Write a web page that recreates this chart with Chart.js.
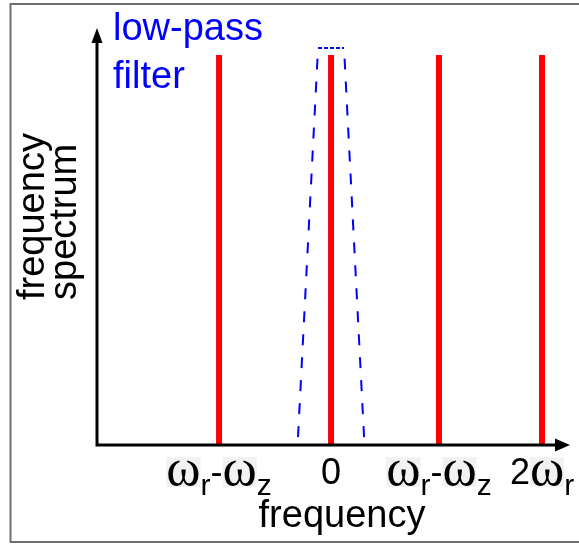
<!DOCTYPE html>
<html>
<head>
<meta charset="utf-8">
<script src="https://cdn.jsdelivr.net/npm/chart.js@4/dist/chart.umd.min.js"></script>
<style>
  html, body { margin: 0; padding: 0; background: #fff; }
  canvas { display: block; }
</style>
</head>
<body>
<canvas id="spectrumChart" width="579" height="546"></canvas>
<script>
// x in units of the line spacing, 0 = DC
const xMin = -2.09;
const xMax = 2.134;

// spectral lines (red)
const lineFreqs = [-1, 0, 0.964, 1.884];
const lineHeights = [0.935, 0.935, 0.935, 0.935];

// low-pass filter outline (blue dashed trapezoid)
const filterX = [-0.295, -0.116, 0.116, 0.295];
const filterY = [0.019, 0.952, 0.952, 0.019];

// tick labels, "_" marks a subscript character
const tickValues = [-1, 0, 0.964, 1.884];
const tickLabels = ['ω_r-ω_z', '0', 'ω_r-ω_z', '2ω_r'];

const RED = '#ff0000';
const BLUE = '#0000ff';
const SANS = '"Liberation Sans", Arial, sans-serif';
const SERIF = '"Liberation Serif", "Times New Roman", serif';

// one dataset per spectral line, from axis to top
const lineSets = lineFreqs.map((f, i) => ({
    data: [{ x: f, y: 0 }, { x: f, y: lineHeights[i] }],
    borderColor: RED,
    borderWidth: 6,
    borderCapStyle: 'butt',
    pointRadius: 0,
    fill: false
}));

const filterSets = [
    // left side (bottom -> top)
    { data: [{ x: filterX[0], y: filterY[0] }, { x: filterX[1], y: filterY[1] }], dash: [11, 12] },
    // top (dotted)
    { data: [{ x: filterX[1], y: filterY[1] }, { x: filterX[2], y: filterY[2] }], dash: [4, 2] },
    // right side (bottom -> top)
    { data: [{ x: filterX[3], y: filterY[3] }, { x: filterX[2], y: filterY[2] }], dash: [11, 12] }
].map(s => ({
    data: s.data,
    borderColor: BLUE,
    borderWidth: 2,
    borderDash: s.dash,
    pointRadius: 0,
    fill: false
}));

function arrowHead(ctx, x, y, dx, dy, len, half) {
    // tip at (x,y), pointing along (dx,dy)
    const bx = x - dx * len, by = y - dy * len;
    ctx.beginPath();
    ctx.moveTo(x, y);
    ctx.lineTo(bx - dy * half, by + dx * half);
    ctx.lineTo(bx + dy * half, by - dx * half);
    ctx.closePath();
    ctx.fill();
}

// split 'ω_r-ω_z' into drawable pieces
function parseLabel(str) {
    const parts = [];
    for (let i = 0; i < str.length; i++) {
        const ch = str[i];
        if (ch === '_') {
            parts.push({ t: str[i + 1], kind: 'sub' });
            i++;
        } else if (ch === 'ω') {
            parts.push({ t: ch, kind: 'greek' });
        } else {
            parts.push({ t: ch, kind: 'plain' });
        }
    }
    return parts;
}

const fonts = {
    greek: '52px ' + SERIF,
    plain: '36px ' + SANS,
    sub: '30px ' + SANS
};

const decorPlugin = {
    id: 'decor',
    beforeDraw(chart) {
        const ctx = chart.ctx;
        ctx.save();
        ctx.fillStyle = '#ffffff';
        ctx.fillRect(0, 0, chart.width, chart.height);
        // outer frame (right edge is off the picture)
        ctx.strokeStyle = '#6e6e6e';
        ctx.lineWidth = 2;
        ctx.strokeRect(10.5, 4, 600, 538);
        ctx.restore();
    },
    afterDatasetsDraw(chart) {
        const ctx = chart.ctx;
        const xs = chart.scales.x, ys = chart.scales.y;
        const x0 = xs.getPixelForValue(xMin);
        const y0 = ys.getPixelForValue(0);
        const xEnd = xs.getPixelForValue(xMax);
        const yEnd = ys.getPixelForValue(1);

        ctx.save();
        ctx.strokeStyle = '#000';
        ctx.fillStyle = '#000';
        ctx.lineWidth = 3;
        ctx.beginPath();
        ctx.moveTo(x0, y0 + 1.5);
        ctx.lineTo(x0, yEnd + 10);
        ctx.moveTo(x0 - 1.5, y0);
        ctx.lineTo(xEnd - 10, y0);
        ctx.stroke();
        arrowHead(ctx, x0, yEnd, 0, -1, 15, 5.5);
        arrowHead(ctx, xEnd, y0, 1, 0, 15, 6.5);

        // tick labels
        ctx.textBaseline = 'alphabetic';
        ctx.textAlign = 'left';
        tickValues.forEach((v, i) => {
            const parts = parseLabel(tickLabels[i]);
            let total = 0;
            parts.forEach(p => {
                ctx.font = fonts[p.kind];
                p.w = ctx.measureText(p.t).width;
                total += p.w;
            });
            let x = xs.getPixelForValue(v) - total / 2;
            parts.forEach(p => {
                ctx.font = fonts[p.kind];
                if (p.kind === 'greek') {
                    ctx.fillStyle = '#f2f2f2';
                    ctx.fillRect(x, 457, p.w, 30);
                    ctx.fillStyle = '#000';
                    ctx.fillText(p.t, x, 485);
                } else if (p.kind === 'sub') {
                    ctx.fillText(p.t, x, 495);
                } else {
                    ctx.fillText(p.t, x, 484);
                }
                x += p.w;
            });
        });

        // axis titles
        ctx.font = '38px ' + SANS;
        ctx.textAlign = 'center';
        ctx.fillText('frequency', 342, 527);

        ctx.textAlign = 'left';
        ['frequency', 'spectrum'].forEach((t, i) => {
            ctx.save();
            ctx.translate(44 + i * 32, 300);
            ctx.rotate(-Math.PI / 2);
            ctx.fillText(t, 0, 0);
            ctx.restore();
        });

        // filter annotation
        ctx.fillStyle = BLUE;
        ctx.fillText('low-pass', 113, 40);
        ctx.fillText('filter', 113, 88);
        ctx.restore();
    }
};

new Chart(document.getElementById('spectrumChart'), {
    type: 'line',
    data: { datasets: [...filterSets, ...lineSets] },
    options: {
        responsive: false,
        animation: false,
        parsing: true,
        layout: { padding: { left: 97, right: 9, top: 28, bottom: 101 } },
        plugins: {
            legend: { display: false },
            tooltip: { enabled: false }
        },
        scales: {
            x: { type: 'linear', min: xMin, max: xMax, display: false },
            y: { type: 'linear', min: 0, max: 1, display: false }
        }
    },
    plugins: [decorPlugin]
});
</script>
</body>
</html>
